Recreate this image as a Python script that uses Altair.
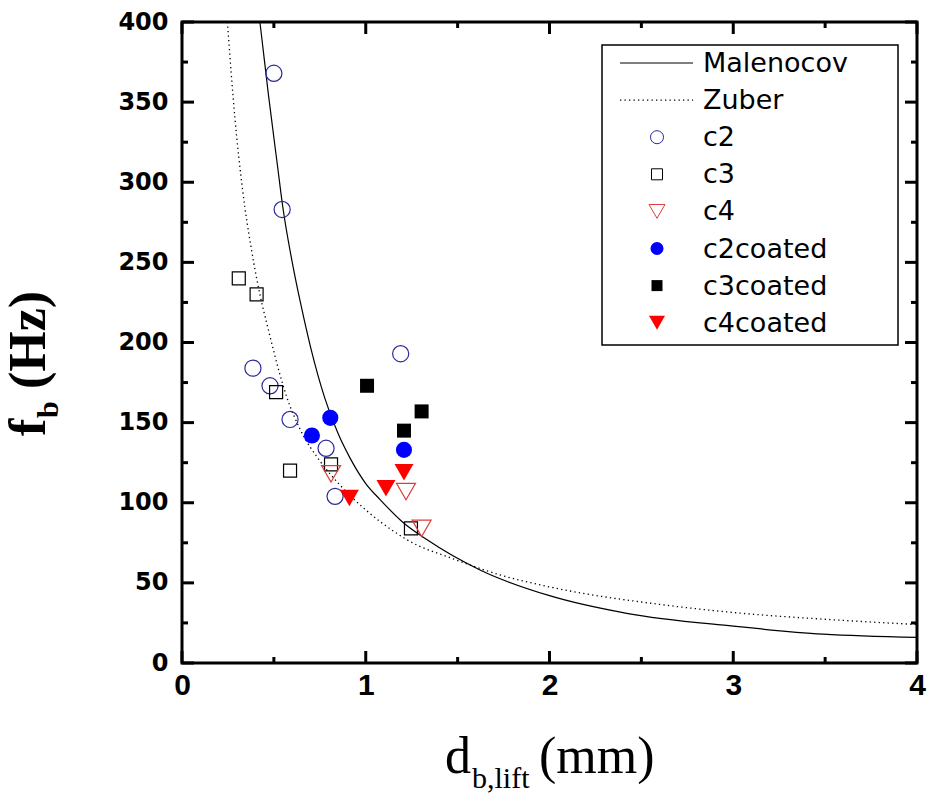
import altair as alt
import pandas as pd

# ---------------- data ----------------
mal_x = [0.424, 0.47, 0.52, 0.548, 0.6, 0.65, 0.7, 0.778, 0.85, 0.914, 1.0, 1.078, 1.2, 1.332, 1.622, 2.0, 2.42, 3.0, 3.49, 4.0]
mal_y = [400, 355, 310, 285, 250, 222, 197, 165, 143, 128, 112, 102, 88, 77, 58, 42, 31, 23, 18, 16]

zub_x = [0.247, 0.288, 0.33, 0.378, 0.424, 0.47, 0.533, 0.57, 0.642, 0.751, 0.86, 1.005, 1.168, 1.223, 1.476, 1.73, 2.0, 2.64, 3.0, 3.54, 4.0]
zub_y = [400, 340, 295, 258, 230, 208, 180, 166, 146, 126, 111, 95, 81, 77, 65, 55, 47.5, 36, 31.5, 27, 24]

c2_x = [0.50, 0.545, 0.386, 0.479, 0.588, 0.784, 0.833, 1.19]
c2_y = [368, 283, 184, 173, 152, 134, 104, 193]
c3_x = [0.309, 0.406, 0.512, 0.588, 0.811, 1.246]
c3_y = [240, 230, 169, 120, 124, 84]
c4_x = [0.811, 1.219, 1.304]
c4_y = [118, 107, 84]
c2c_x = [0.807, 0.707, 1.208]
c2c_y = [153, 142, 133]
c3c_x = [1.007, 1.304, 1.208]
c3c_y = [173, 157, 145]
c4c_x = [0.911, 1.11, 1.208]
c4c_y = [103, 109, 119]

x_major = [0, 1, 2, 3, 4]
x_minor = [0.5, 1.5, 2.5, 3.5]
y_major = [0, 50, 100, 150, 200, 250, 300, 350, 400]
y_minor = [25, 75, 125, 175, 225, 275, 325, 375]

legend_names = ["Malenocov", "Zuber", "c2", "c3", "c4", "c2coated", "c3coated", "c4coated"]

# ---------------- layout ----------------
W, H = 735, 641
PAD_L, PAD_T = 182, 22
PAD_R = 933 - PAD_L - W
PAD_B = 800 - PAD_T - H

xs = alt.Scale(domain=[0, 4], nice=False, zero=False)
ys = alt.Scale(domain=[0, 400], nice=False, zero=False)

xaxis = alt.Axis(values=x_major, ticks=False, domain=False, grid=False, title=None,
                 labelFont="Liberation Sans Narrow, Liberation Sans", labelFontWeight="bold",
                 labelFontSize=30, labelPadding=7, labelColor="black", labelFlush=False,
                 labelOverlap=False, format="d")
yaxis = alt.Axis(values=y_major, ticks=False, domain=False, grid=False, title=None,
                 labelFont="DejaVu Sans", labelFontWeight="bold", labelFontSize=24,
                 labelPadding=14, labelColor="black", labelOverlap=False, format="d")


def X(f):
    return alt.X(f, type="quantitative", scale=xs, axis=xaxis)


def Y(f):
    return alt.Y(f, type="quantitative", scale=ys, axis=yaxis)


def df_xy(xv, yv):
    return pd.DataFrame({"x": xv, "y": yv})


one = pd.DataFrame({"a": [0]})

layers = []

# curves
layers.append(alt.Chart(df_xy(mal_x, mal_y)).mark_line(color="black", strokeWidth=1.2, interpolate="monotone")
              .encode(x=X("x"), y=Y("y")))
layers.append(alt.Chart(df_xy(zub_x, zub_y)).mark_line(color="black", strokeWidth=1.3, strokeDash=[1.3, 3.2],
                                                       interpolate="monotone")
              .encode(x=X("x"), y=Y("y")))

C2_COL = "#2a2a9c"
C4_COL = "#e23b3b"
BLUE = "#0000ff"
RED = "#ff0000"

# open markers
layers.append(alt.Chart(df_xy(c2_x, c2_y)).mark_point(shape="circle", filled=False, size=260, stroke=C2_COL,
                                                     strokeWidth=1.2, opacity=1).encode(x=X("x"), y=Y("y")))
layers.append(alt.Chart(df_xy(c3_x, c3_y)).mark_point(shape="square", filled=False, size=169, stroke="black",
                                                     strokeWidth=1.2, opacity=1).encode(x=X("x"), y=Y("y")))
layers.append(alt.Chart(df_xy(c4_x, c4_y)).mark_point(shape="triangle-down", filled=False, size=361, stroke=C4_COL,
                                                     strokeWidth=1.2, opacity=1).encode(x=X("x"), y=Y("y")))
# filled markers
layers.append(alt.Chart(df_xy(c2c_x, c2c_y)).mark_point(shape="circle", filled=True, size=260, color=BLUE,
                                                       opacity=1).encode(x=X("x"), y=Y("y")))
layers.append(alt.Chart(df_xy(c3c_x, c3c_y)).mark_point(shape="square", filled=True, size=196, color="black",
                                                       opacity=1).encode(x=X("x"), y=Y("y")))
layers.append(alt.Chart(df_xy(c4c_x, c4c_y)).mark_point(shape="triangle-down", filled=True, size=361, color=RED,
                                                       opacity=1).encode(x=X("x"), y=Y("y")))

# inside ticks on all four sides
TW = 3
for vals, ln in ((x_major, 12), (x_minor, 6)):
    d = pd.DataFrame({"v": vals})
    layers.append(alt.Chart(d).mark_rule(color="black", strokeWidth=TW)
                  .encode(x=X("v"), y=alt.value(H), y2=alt.value(H - ln)))
    layers.append(alt.Chart(d).mark_rule(color="black", strokeWidth=TW)
                  .encode(x=X("v"), y=alt.value(0), y2=alt.value(ln)))
for vals, ln in ((y_major, 12), (y_minor, 6)):
    d = pd.DataFrame({"v": vals})
    layers.append(alt.Chart(d).mark_rule(color="black", strokeWidth=TW)
                  .encode(y=Y("v"), x=alt.value(0), x2=alt.value(ln)))
    layers.append(alt.Chart(d).mark_rule(color="black", strokeWidth=TW)
                  .encode(y=Y("v"), x=alt.value(W), x2=alt.value(W - ln)))

# ---------------- legend ----------------
LX0, LX1, LY0, LY1 = 420, 716, 23, 323
layers.append(alt.Chart(one).mark_rect(fill="white", stroke="black", strokeWidth=1.5)
              .encode(x=alt.value(LX0), x2=alt.value(LX1), y=alt.value(LY0), y2=alt.value(LY1)))
row_y = [41 + 37.1 * i for i in range(len(legend_names))]
SYM_X = 475
for name, ry in zip(legend_names, row_y):
    layers.append(alt.Chart(one).mark_text(align="left", baseline="middle", font="DejaVu Sans", fontSize=27,
                                           color="black")
                  .encode(x=alt.value(521), y=alt.value(ry + 1), text=alt.value(name)))
layers.append(alt.Chart(one).mark_rule(color="black", strokeWidth=1.2)
              .encode(x=alt.value(438), x2=alt.value(511), y=alt.value(row_y[0])))
layers.append(alt.Chart(one).mark_rule(color="black", strokeWidth=1.3, strokeDash=[1.3, 3.2])
              .encode(x=alt.value(438), x2=alt.value(511), y=alt.value(row_y[1])))
leg_syms = [
    dict(shape="circle", filled=False, size=170, stroke=C2_COL, strokeWidth=1.0),
    dict(shape="square", filled=False, size=121, stroke="black", strokeWidth=1.0),
    dict(shape="triangle-down", filled=False, size=256, stroke=C4_COL, strokeWidth=1.0),
    dict(shape="circle", filled=True, size=170, color=BLUE),
    dict(shape="square", filled=True, size=121, color="black"),
    dict(shape="triangle-down", filled=True, size=256, color=RED),
]
for sym, ry in zip(leg_syms, row_y[2:]):
    layers.append(alt.Chart(one).mark_point(opacity=1, **sym)
                  .encode(x=alt.value(SYM_X), y=alt.value(ry)))

# ---------------- axis titles (with subscripts) ----------------
SERIF = "Liberation Serif"
TBASE = 751
layers.append(alt.Chart(one).mark_text(align="left", baseline="alphabetic", font=SERIF, fontSize=52, color="black")
              .encode(x=alt.value(263), y=alt.value(TBASE), text=alt.value("d")))
layers.append(alt.Chart(one).mark_text(align="left", baseline="alphabetic", font=SERIF, fontSize=30, color="black")
              .encode(x=alt.value(290), y=alt.value(TBASE + 15), text=alt.value("b,lift")))
layers.append(alt.Chart(one).mark_text(align="left", baseline="alphabetic", font=SERIF, fontSize=52, color="black")
              .encode(x=alt.value(357), y=alt.value(TBASE), text=alt.value("(mm)")))

YT_X = -137
YT_Y0 = 414
layers.append(alt.Chart(one).mark_text(align="left", baseline="alphabetic", font=SERIF, fontSize=52,
                                       fontWeight="bold", angle=270, color="black")
              .encode(x=alt.value(YT_X), y=alt.value(YT_Y0), text=alt.value("f")))
layers.append(alt.Chart(one).mark_text(align="left", baseline="alphabetic", font=SERIF, fontSize=30,
                                       fontWeight="bold", angle=270, color="black")
              .encode(x=alt.value(YT_X + 13), y=alt.value(YT_Y0 - 18), text=alt.value("b")))
layers.append(alt.Chart(one).mark_text(align="left", baseline="alphabetic", font=SERIF, fontSize=52,
                                       fontWeight="bold", angle=270, color="black")
              .encode(x=alt.value(YT_X), y=alt.value(YT_Y0 - 47), text=alt.value("(Hz)")))

chart = (alt.layer(*layers)
         .properties(width=W, height=H, autosize=alt.AutoSizeParams(type="none"),
                     padding={"left": PAD_L, "top": PAD_T, "right": PAD_R, "bottom": PAD_B},
                     background="white")
         .configure_view(stroke="black", strokeWidth=3))

chart.save("out.html", embed_options={"renderer": "svg", "actions": False})
